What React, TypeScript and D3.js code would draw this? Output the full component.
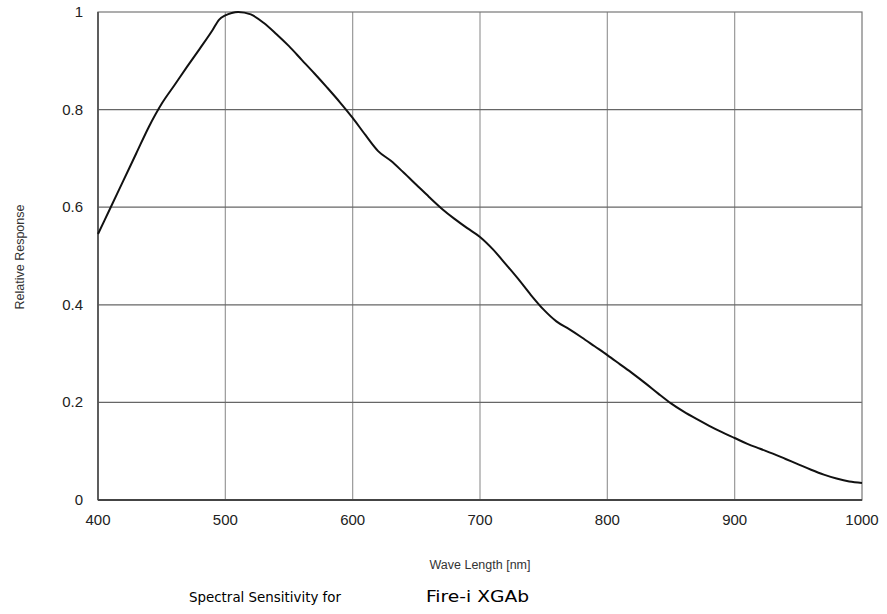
import React, { useEffect, useRef } from 'react';
import * as d3 from 'd3';

// wavelength [nm] and relative response
const waveLengths = [400, 410, 420, 430, 440, 450, 460, 470, 480, 490, 495, 500, 505, 510, 520, 530, 540, 550, 560, 570, 580, 590, 600, 610, 620, 630, 640, 650, 660, 670, 680, 690, 700, 710, 720, 730, 740, 750, 760, 770, 780, 790, 800, 810, 820, 830, 840, 850, 860, 870, 880, 890, 900, 910, 920, 930, 940, 950, 960, 970, 980, 990, 1000];
const response = [0.545, 0.6, 0.655, 0.71, 0.765, 0.812, 0.85, 0.888, 0.925, 0.963, 0.984, 0.993, 0.998, 1.0, 0.995, 0.978, 0.955, 0.93, 0.902, 0.874, 0.845, 0.815, 0.783, 0.748, 0.715, 0.695, 0.671, 0.646, 0.621, 0.597, 0.576, 0.557, 0.539, 0.514, 0.484, 0.453, 0.42, 0.39, 0.366, 0.35, 0.333, 0.315, 0.297, 0.278, 0.259, 0.239, 0.218, 0.198, 0.181, 0.166, 0.152, 0.139, 0.127, 0.115, 0.105, 0.095, 0.084, 0.073, 0.062, 0.052, 0.044, 0.038, 0.035];
const xTicks = [400, 500, 600, 700, 800, 900, 1000];
const yTicks = [0, 0.2, 0.4, 0.6, 0.8, 1];

const W = 887;
const H = 614;
const margin = { top: 12, right: 25, bottom: 114, left: 98 };
const labelFont = '"Liberation Sans", Arial, sans-serif';

export default function App() {
  const ref = useRef<SVGSVGElement>(null);

  useEffect(() => {
    const svg = d3.select(ref.current);
    svg.selectAll('*').remove();
    const w = W - margin.left - margin.right;
    const h = H - margin.top - margin.bottom;

    svg.append('defs').append('clipPath').attr('id', 'pageclip')
      .append('rect').attr('x', 0).attr('y', 0).attr('width', 879).attr('height', H);

    const g = svg.append('g').attr('transform', `translate(${margin.left},${margin.top})`);

    const x = d3.scaleLinear().domain([400, 1000]).range([0, w]);
    const y = d3.scaleLinear().domain([0, 1]).range([h, 0]);

    // grid
    g.selectAll('.vgrid').data(xTicks.slice(1, -1)).enter().append('line')
      .attr('x1', d => x(d)).attr('x2', d => x(d))
      .attr('y1', 0).attr('y2', h)
      .attr('stroke', '#999').attr('stroke-width', 1.2);
    g.selectAll('.hgrid').data(yTicks.slice(1, -1)).enter().append('line')
      .attr('x1', 0).attr('x2', w)
      .attr('y1', d => y(d)).attr('y2', d => y(d))
      .attr('stroke', '#666').attr('stroke-width', 1.2);

    // frame
    g.append('rect').attr('x', 0).attr('y', 0).attr('width', w).attr('height', h)
      .attr('fill', 'none').attr('stroke', '#777').attr('stroke-width', 1.2);
    g.append('line').attr('x1', 0).attr('x2', 0).attr('y1', 0).attr('y2', h)
      .attr('stroke', '#555').attr('stroke-width', 1.8);
    g.append('line').attr('x1', 0).attr('x2', w).attr('y1', h).attr('y2', h)
      .attr('stroke', '#444').attr('stroke-width', 1.8);

    // tick labels
    g.selectAll('.ylab').data(yTicks).enter().append('text')
      .attr('x', -15).attr('y', d => y(d) + 5)
      .attr('text-anchor', 'end')
      .attr('font-family', labelFont)
      .attr('font-size', 15).attr('fill', '#222')
      .text(d => String(d));
    svg.append('g').attr('clip-path', 'url(#pageclip)')
      .append('g').attr('transform', `translate(${margin.left},${margin.top})`)
      .selectAll('text').data(xTicks).enter().append('text')
      .attr('x', d => x(d)).attr('y', h + 25)
      .attr('text-anchor', 'middle')
      .attr('font-family', labelFont)
      .attr('font-size', 15).attr('fill', '#222')
      .text(d => String(d));

    // curve
    const line = d3.line<number>()
      .x((d, i) => x(waveLengths[i]))
      .y(d => y(d))
      .curve(d3.curveMonotoneX);
    g.append('path').datum(response)
      .attr('d', line)
      .attr('fill', 'none').attr('stroke', '#111').attr('stroke-width', 2);

    // axis titles
    svg.append('text')
      .attr('x', 480).attr('y', 569)
      .attr('text-anchor', 'middle')
      .attr('font-family', labelFont)
      .attr('font-size', 12.5).attr('fill', '#333')
      .text('Wave Length [nm]');
    svg.append('text')
      .attr('transform', 'translate(24,257) rotate(-90)')
      .attr('text-anchor', 'middle')
      .attr('font-family', labelFont)
      .attr('font-size', 12.5).attr('fill', '#333')
      .text('Relative Response');

    // caption
    svg.append('text')
      .attr('x', 189).attr('y', 602)
      .attr('font-family', '"DejaVu Sans", sans-serif')
      .attr('font-size', 13.5).attr('fill', '#000')
      .attr('textLength', 152).attr('lengthAdjust', 'spacingAndGlyphs')
      .text('Spectral Sensitivity for');
    svg.append('text')
      .attr('x', 426).attr('y', 602)
      .attr('font-family', '"DejaVu Sans", sans-serif')
      .attr('font-size', 15).attr('fill', '#000')
      .attr('textLength', 103).attr('lengthAdjust', 'spacingAndGlyphs')
      .text('Fire-i XGAb');
  }, []);

  return (
    <svg ref={ref} width={W} height={H}
      style={{ position: 'absolute', left: 0, top: 0, background: '#fff' }} />
  );
}
